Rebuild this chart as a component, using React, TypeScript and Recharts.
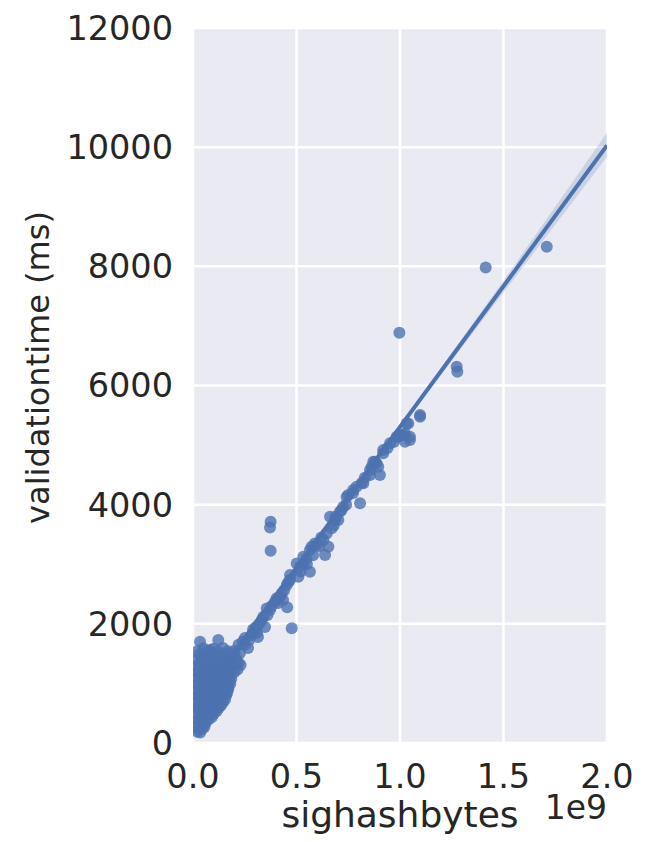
import {
  ComposedChart,
  Scatter,
  Line,
  Area,
  XAxis,
  YAxis,
  CartesianGrid,
  Label,
} from 'recharts';

// sighashbytes (in units of 1e9) vs validationtime (ms)
const originBlob: [number, number][] = [
  [0.02, 190], [0.035, 175],
  [0.015, 280], [0.04, 290], [0.055, 270],
  [0.02, 390], [0.05, 380], [0.075, 395],
  [0.015, 480], [0.045, 495], [0.075, 470], [0.1, 485],
  [0.02, 590], [0.05, 580], [0.08, 600], [0.11, 575], [0.125, 590],
  [0.015, 690], [0.045, 680], [0.075, 700], [0.1, 690], [0.125, 670], [0.145, 685],
  [0.02, 790], [0.05, 800], [0.08, 780], [0.11, 795], [0.14, 780], [0.16, 800],
  [0.015, 890], [0.045, 880], [0.07, 900], [0.1, 885], [0.13, 895], [0.155, 880], [0.17, 900],
  [0.02, 990], [0.05, 1000], [0.08, 985], [0.11, 995], [0.14, 980], [0.165, 1000], [0.18, 990],
  [0.015, 1090], [0.04, 1080], [0.07, 1100], [0.1, 1085], [0.13, 1095], [0.16, 1090], [0.185, 1080],
  [0.02, 1190], [0.05, 1200], [0.08, 1185], [0.11, 1195], [0.145, 1180], [0.17, 1200], [0.2, 1190],
  [0.015, 1290], [0.045, 1280], [0.075, 1300], [0.1, 1290], [0.13, 1285], [0.16, 1300], [0.2, 1290], [0.23, 1310],
  [0.02, 1390], [0.06, 1400], [0.09, 1380], [0.12, 1395], [0.16, 1385], [0.21, 1400],
  [0.03, 1490], [0.07, 1500], [0.11, 1480], [0.16, 1495], [0.2, 1490],
  [0.05, 1590], [0.1, 1580], [0.082, 1560], [0.145, 1594], [0.179, 1426],
  [0.034, 1700], [0.122, 1728],
];

const blobFill: [number, number][] = [
  [0.025, 235], [0.045, 240],
  [0.03, 335], [0.06, 330],
  [0.03, 435], [0.06, 440], [0.09, 430],
  [0.03, 535], [0.06, 540], [0.09, 530], [0.115, 535],
  [0.03, 635], [0.06, 630], [0.09, 640], [0.115, 635], [0.135, 630],
  [0.03, 735], [0.06, 740], [0.09, 730], [0.115, 735], [0.135, 740], [0.155, 730],
  [0.03, 835], [0.06, 830], [0.09, 840], [0.12, 835], [0.145, 830], [0.165, 840],
  [0.03, 935], [0.06, 940], [0.09, 930], [0.12, 935], [0.145, 945], [0.17, 935],
  [0.03, 1035], [0.06, 1030], [0.09, 1040], [0.12, 1035], [0.15, 1030], [0.175, 1040],
  [0.03, 1135], [0.06, 1140], [0.09, 1130], [0.12, 1135], [0.15, 1140], [0.18, 1130],
  [0.03, 1235], [0.06, 1230], [0.09, 1240], [0.12, 1235], [0.15, 1230], [0.185, 1240], [0.215, 1235],
  [0.035, 1340], [0.07, 1335], [0.105, 1345], [0.14, 1340], [0.18, 1335], [0.22, 1345],
  [0.04, 1440], [0.09, 1445], [0.13, 1435], [0.18, 1440],
  [0.02, 1540], [0.07, 1545], [0.12, 1535], [0.17, 1540],
];

const diagonalLow: [number, number][] = [
  [0.2, 1550], [0.227, 1510], [0.25, 1650], [0.266, 1594], [0.22, 1650], [0.24, 1700],
  [0.251, 1762], [0.27, 1720], [0.283, 1812], [0.29, 1900], [0.291, 1840], [0.300, 1930],
  [0.308, 1952], [0.31, 1850], [0.314, 1779], [0.32, 2000], [0.332, 2064], [0.340, 2119],
  [0.348, 1946], [0.356, 2259], [0.36, 2150], [0.372, 2232], [0.38, 2300], [0.396, 2371],
  [0.404, 2428], [0.411, 2349], [0.42, 2450], [0.428, 2511], [0.435, 2400], [0.44, 2560],
  [0.453, 2651], [0.455, 2280], [0.46, 2700], [0.469, 2735], [0.469, 2819], [0.477, 1924],
];

const diagonalMid: [number, number][] = [
  [0.501, 3014], [0.509, 2791], [0.517, 2958], [0.52, 2880], [0.533, 3014], [0.533, 3126],
  [0.549, 3098], [0.55, 3000], [0.565, 2874], [0.565, 3238], [0.573, 3294], [0.58, 3150],
  [0.589, 3350], [0.598, 3322], [0.61, 3300], [0.62, 3450], [0.630, 3406], [0.638, 3155],
  [0.646, 3518], [0.654, 3294], [0.662, 3797], [0.670, 3603], [0.68, 3650], [0.686, 3742],
  [0.69, 3800], [0.702, 3742], [0.710, 3881], [0.718, 3910], [0.726, 3965], [0.74, 4000],
  [0.742, 4128], [0.750, 4161], [0.773, 4195], [0.774, 4245], [0.79, 4300], [0.807, 4022],
  [0.815, 4363], [0.823, 4359],
];

const diagonalHigh: [number, number][] = [
  [0.83, 4450], [0.855, 4497], [0.855, 4581], [0.863, 4638], [0.871, 4720], [0.879, 4720],
  [0.887, 4694], [0.895, 4636], [0.903, 4497], [0.919, 4861], [0.919, 4916], [0.94, 4950],
  [0.952, 5029], [0.97, 5050], [0.984, 5140], [0.992, 5140], [1.008, 5168], [1.016, 5168],
  [1.024, 5056], [1.024, 5196], [1.032, 5364], [1.040, 5364], [1.048, 5084], [1.048, 5140],
  [1.097, 5476], [1.097, 5504],
];

const outliers: [number, number][] = [
  [0.375, 3713], [0.372, 3617], [0.375, 3227], [0.997, 6885], [1.274, 6314],
  [1.277, 6230], [1.414, 7982], [1.709, 8328],
];

// fitted line endpoints and its confidence band
const fitX = [0, 2.0];
const fitY = [580, 10030];
const bandX = [0, 0.5, 1.0, 1.5, 2.0];
const bandLow = [565, 2930, 5270, 7560, 9840];
const bandHigh = [595, 2960, 5340, 7760, 10240];

const xTicks = [0, 0.5, 1.0, 1.5, 2.0];
const yTicks = [0, 2000, 4000, 6000, 8000, 10000, 12000];

const points = [
  ...originBlob,
  ...blobFill,
  ...diagonalLow,
  ...diagonalMid,
  ...diagonalHigh,
  ...outliers,
].map(([x, y]) => ({ x, y }));
const fitLine = fitX.map((x, i) => ({ x, y: fitY[i] }));
const band = bandX.map((x, i) => ({ x, range: [bandLow[i], bandHigh[i]] }));

const BLUE = '#4C72B0';
const TEXT = '#262626';
const FONT = '"DejaVu Sans", sans-serif';

const Dot = (props: any) => (
  <circle cx={props.cx} cy={props.cy} r={6} fill={BLUE} fillOpacity={0.8} />
);

const XLabel = (props: any) => {
  const { x, y, width } = props.viewBox;
  return (
    <g>
      <text x={x + width / 2} y={y + 84} textAnchor="middle" fontSize={36} fill={TEXT} fontFamily={FONT}>
        sighashbytes
      </text>
      <text x={x + width} y={y + 76} textAnchor="end" fontSize={33} fill={TEXT} fontFamily={FONT}>
        1e9
      </text>
    </g>
  );
};

const YLabel = (props: any) => {
  const { y, height } = props.viewBox;
  const cy = y + height / 2 - 18;
  return (
    <text
      x={49}
      y={cy}
      transform={`rotate(-90, 49, ${cy})`}
      textAnchor="middle"
      fontSize={32}
      fill={TEXT}
      fontFamily={FONT}
    >
      validationtime (ms)
    </text>
  );
};

export default function App() {
  return (
    <div style={{ position: 'absolute', left: 0, top: 0, background: '#fff' }}>
      <ComposedChart width={652} height={842} margin={{ top: 28, right: 45, bottom: 0, left: 0 }}>
        <CartesianGrid fill="#EAEAF2" stroke="#ffffff" strokeWidth={2.5} />
        <XAxis
          type="number"
          dataKey="x"
          domain={[0, 2]}
          ticks={xTicks}
          allowDataOverflow
          height={99}
          axisLine={false}
          tickLine={false}
          tickSize={0}
          tickMargin={21}
          tickFormatter={(v: number) => v.toFixed(1)}
          tick={{ fill: TEXT, fontSize: 33.5, fontFamily: FONT }}
        >
          <Label content={XLabel} />
        </XAxis>
        <YAxis
          type="number"
          domain={[0, 12000]}
          ticks={yTicks}
          allowDataOverflow
          width={193}
          axisLine={false}
          tickLine={false}
          tickSize={0}
          tickMargin={20}
          tick={{ fill: TEXT, fontSize: 33.5, fontFamily: FONT }}
        >
          <Label content={YLabel} />
        </YAxis>
        <Scatter data={points} dataKey="y" shape={Dot} isAnimationActive={false} />
        <Area
          data={band}
          dataKey="range"
          type="linear"
          stroke="none"
          fill={BLUE}
          fillOpacity={0.2}
          isAnimationActive={false}
        />
        <Line
          data={fitLine}
          dataKey="y"
          type="linear"
          stroke={BLUE}
          strokeWidth={4}
          dot={false}
          activeDot={false}
          isAnimationActive={false}
        />
      </ComposedChart>
    </div>
  );
}
